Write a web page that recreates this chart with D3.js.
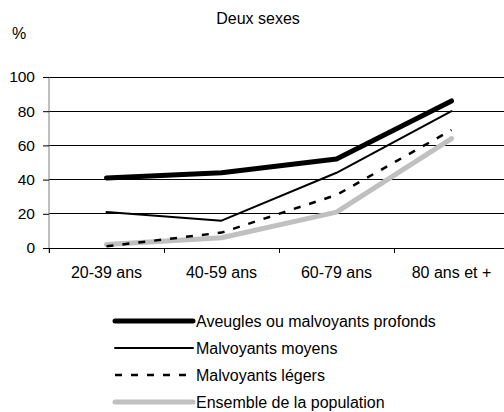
<!DOCTYPE html>
<html><head><meta charset="utf-8">
<script src="https://cdn.jsdelivr.net/npm/d3@7"></script>
<style>
html,body{margin:0;padding:0;background:#fff;overflow:hidden}
text{font-family:"Liberation Sans",Arial,sans-serif;fill:#000}
</style></head>
<body><svg id="c" width="504" height="412"></svg>
<script>
const categories = ["20-39 ans","40-59 ans","60-79 ans","80 ans et +"];
const seriesNames = ["Aveugles ou malvoyants profonds","Malvoyants moyens","Malvoyants légers","Ensemble de la population"];
const aveugles = [41, 44, 52, 86];
const moyens = [21, 16, 44, 80];
const legers = [1, 9, 31, 69];
const ensemble = [2, 6, 21, 64];
const yTicks = [0, 20, 40, 60, 80, 100];
const title = "Deux sexes";
const yUnit = "%";

const styles = [
  {stroke:"#000", width:5, dash:null},
  {stroke:"#000", width:2, dash:null},
  {stroke:"#000", width:2.5, dash:"7,9"},
  {stroke:"#c0c0c0", width:5, dash:null}
];
const seriesData = [aveugles, moyens, legers, ensemble];

const svg = d3.select("#c");
const fs = 16;
const x = d3.scaleBand().domain(categories).range([49, 509]);
const y = d3.scaleLinear().domain([0, 100]).range([248, 77]);

svg.append("text").attr("x", 258).attr("y", 23.5).attr("text-anchor","middle")
  .style("font-size", fs+"px").text(title);
svg.append("text").attr("x", 12).attr("y", 39).style("font-size", fs+"px").text(yUnit);

svg.append("g").selectAll("line").data(yTicks.filter(d=>d>0)).join("line")
  .attr("x1", 49).attr("x2", 509).attr("y1", d=>y(d)).attr("y2", d=>y(d))
  .attr("stroke", "#000").attr("stroke-width", 1).attr("shape-rendering","crispEdges");

const yAxis = svg.append("g").attr("transform","translate(49,0)")
  .call(d3.axisLeft(y).tickValues(yTicks).tickSize(6).tickPadding(8));
yAxis.select(".domain").attr("stroke","#808080").attr("d", `M-0,${y(0)+5}V${y(100)}`);
yAxis.selectAll(".tick line").attr("stroke","#000");
yAxis.selectAll(".tick text").style("font-size", "15.5px").style("font-family",'"Liberation Sans",Arial,sans-serif').attr("fill","#000");

const xAxis = svg.append("g").attr("transform",`translate(0,${y(0)})`);
xAxis.append("line").attr("x1",49).attr("x2",509).attr("y1",0).attr("y2",0)
  .attr("stroke","#000").attr("shape-rendering","crispEdges");
xAxis.selectAll("line.tk").data(categories).join("line").attr("class","tk")
  .attr("x1", d=>x(d)).attr("x2", d=>x(d)).attr("y1",0).attr("y2",5)
  .attr("stroke","#000").attr("shape-rendering","crispEdges");
xAxis.selectAll("text").data(categories).join("text")
  .attr("x", d=>x(d)+x.bandwidth()/2).attr("y", 29.5).attr("text-anchor","middle")
  .style("font-size", fs+"px").text(d=>d);

const line = d3.line().x((d,i)=>x(categories[i])+x.bandwidth()/2).y(d=>y(d));
[3,2,1,0].forEach(k=>{
  svg.append("path").datum(seriesData[k]).attr("d", line)
    .attr("fill","none").attr("stroke", styles[k].stroke)
    .attr("stroke-width", styles[k].width)
    .attr("stroke-dasharray", styles[k].dash)
    .attr("stroke-linejoin","round").attr("stroke-linecap", styles[k].dash ? "butt" : "round");
});

const lg = svg.append("g");
const rowY = d3.scaleLinear().domain([0,3]).range([321, 402]);
seriesNames.forEach((n,k)=>{
  const yy = rowY(k);
  lg.append("line").attr("x1",115).attr("x2",193).attr("y1",yy).attr("y2",yy)
    .attr("stroke", styles[k].stroke).attr("stroke-width", styles[k].width)
    .attr("stroke-dasharray", styles[k].dash)
    .attr("stroke-linecap", styles[k].dash ? "butt" : "round");
  lg.append("text").attr("x",196).attr("y",yy+5.5).style("font-size", fs+"px").text(n);
});
</script></body></html>
